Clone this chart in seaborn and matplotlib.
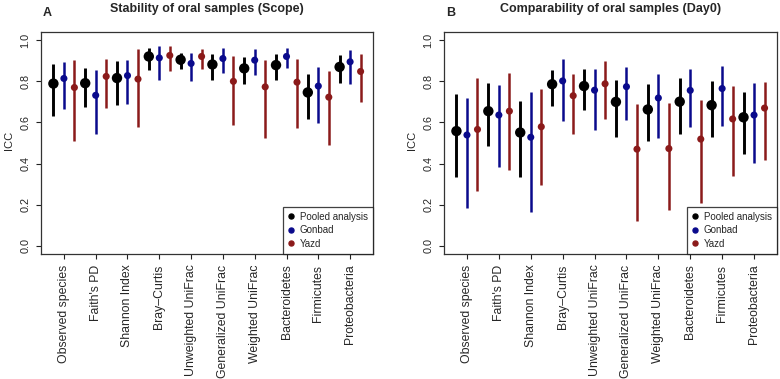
import matplotlib
matplotlib.use('Agg')

import numpy as np
import pandas as pd
import matplotlib.pyplot as plt
from matplotlib.lines import Line2D
import seaborn as sns

# ==============================================================================
# 資料 (由圖上讀取的估計值)
# ==============================================================================
metrics = ['Observed species', "Faith's PD", 'Shannon Index', 'Bray\u2013Curtis',
           'Unweighted UniFrac', 'Generalized UniFrac', 'Weighted UniFrac',
           'Bacteroidetes', 'Firmicutes', 'Proteobacteria']
cohorts = ['Pooled analysis', 'Gonbad', 'Yazd']

# Panel A: Stability of oral samples (Scope)
a_pooled = [0.789, 0.791, 0.816, 0.921, 0.905, 0.882, 0.863, 0.879, 0.746, 0.870]
a_pooled_lo = [0.633, 0.676, 0.683, 0.854, 0.858, 0.806, 0.788, 0.806, 0.615, 0.793]
a_pooled_hi = [0.885, 0.865, 0.900, 0.964, 0.938, 0.932, 0.919, 0.934, 0.834, 0.927]
a_gonbad = [0.814, 0.732, 0.828, 0.914, 0.887, 0.911, 0.903, 0.921, 0.777, 0.895]
a_gonbad_lo = [0.666, 0.543, 0.688, 0.805, 0.802, 0.840, 0.830, 0.863, 0.599, 0.788]
a_gonbad_hi = [0.892, 0.854, 0.903, 0.970, 0.939, 0.960, 0.955, 0.962, 0.869, 0.951]
a_yazd = [0.770, 0.824, 0.811, 0.926, 0.921, 0.800, 0.773, 0.796, 0.723, 0.848]
a_yazd_lo = [0.511, 0.668, 0.579, 0.848, 0.858, 0.587, 0.525, 0.572, 0.490, 0.700]
a_yazd_hi = [0.905, 0.911, 0.955, 0.974, 0.956, 0.922, 0.903, 0.911, 0.851, 0.934]

# Panel B: Comparability of oral samples (Day0)
b_pooled = [0.558, 0.655, 0.551, 0.786, 0.777, 0.700, 0.663, 0.701, 0.684, 0.625]
b_pooled_lo = [0.333, 0.483, 0.333, 0.680, 0.659, 0.527, 0.508, 0.543, 0.528, 0.447]
b_pooled_hi = [0.737, 0.793, 0.705, 0.856, 0.858, 0.808, 0.788, 0.814, 0.801, 0.748]
b_gonbad = [0.539, 0.636, 0.528, 0.802, 0.757, 0.774, 0.719, 0.756, 0.765, 0.636]
b_gonbad_lo = [0.183, 0.382, 0.165, 0.606, 0.561, 0.612, 0.523, 0.579, 0.581, 0.401]
b_gonbad_hi = [0.717, 0.782, 0.748, 0.908, 0.862, 0.871, 0.835, 0.862, 0.874, 0.790]
b_yazd = [0.566, 0.655, 0.579, 0.730, 0.788, 0.470, 0.473, 0.519, 0.617, 0.670]
b_yazd_lo = [0.267, 0.369, 0.296, 0.542, 0.615, 0.122, 0.175, 0.210, 0.340, 0.419]
b_yazd_hi = [0.817, 0.841, 0.765, 0.838, 0.899, 0.691, 0.696, 0.710, 0.777, 0.798]

panel_titles = ['Stability of oral samples (Scope)', 'Comparability of oral samples (Day0)']
panel_letters = ['A', 'B']


def build_frame(est, lo, hi):
    rows = []
    for cohort, e, l, h in zip(cohorts, est, lo, hi):
        for m, ev, lv, hv in zip(metrics, e, l, h):
            rows.append({'metric': m, 'cohort': cohort, 'icc': ev, 'lo': lv, 'hi': hv})
    return pd.DataFrame(rows)


panel_a = build_frame([a_pooled, a_gonbad, a_yazd],
                      [a_pooled_lo, a_gonbad_lo, a_yazd_lo],
                      [a_pooled_hi, a_gonbad_hi, a_yazd_hi])
panel_b = build_frame([b_pooled, b_gonbad, b_yazd],
                      [b_pooled_lo, b_gonbad_lo, b_yazd_lo],
                      [b_pooled_hi, b_gonbad_hi, b_yazd_hi])

# ==============================================================================
# 樣式設定
# ==============================================================================
sns.set_style('white')
plt.rcParams['font.family'] = ['Liberation Sans', 'DejaVu Sans']

palette = {'Pooled analysis': '#000000', 'Gonbad': '#0a0a8c', 'Yazd': '#8b1a1a'}
offsets = {'Pooled analysis': -0.33, 'Gonbad': 0.0, 'Yazd': 0.33}
point_sizes = {'Pooled analysis': 56, 'Gonbad': 26, 'Yazd': 26}
line_widths = {'Pooled analysis': 2.1, 'Gonbad': 1.8, 'Yazd': 1.8}

W, H = 780, 379
fig = plt.figure(figsize=(W / 100, H / 100), dpi=100)

axes_px = [(41, 373), (444, 777)]
top_px, bottom_px = 32, 254

for i, (df, (x0, x1)) in enumerate(zip([panel_a, panel_b], axes_px)):
    ax = fig.add_axes([x0 / W, 1 - bottom_px / H, (x1 - x0) / W, (bottom_px - top_px) / H])
    df = df.copy()
    df['xpos'] = df['metric'].map({m: k + 1 for k, m in enumerate(metrics)}) + df['cohort'].map(offsets)

    # 信賴區間
    for cohort in cohorts:
        sub = df[df['cohort'] == cohort]
        ax.vlines(sub['xpos'], sub['lo'], sub['hi'], colors=palette[cohort],
                  linewidth=line_widths[cohort], zorder=2)

    # 點估計
    sns.scatterplot(data=df, x='xpos', y='icc', hue='cohort', size='cohort',
                    palette=palette, sizes=point_sizes, hue_order=cohorts,
                    size_order=cohorts, linewidth=0, legend=False, ax=ax, zorder=3)

    ax.set_xlim(0.28, 10.72)
    ax.set_ylim(-0.04, 1.04)
    ax.set_xticks(np.arange(1, len(metrics) + 1))
    ax.set_xticklabels(metrics, rotation=90, ha='center', va='top', fontsize=8.8)
    ax.set_yticks([0, 0.2, 0.4, 0.6, 0.8, 1.0])
    ax.set_yticklabels(['0.0', '0.2', '0.4', '0.6', '0.8', '1.0'], rotation=90,
                       va='center', fontsize=7.8)
    ax.tick_params(axis='both', direction='out', length=3.6, width=0.8, pad=4,
                   color='#222222', left=True, bottom=True)
    ax.set_xlabel('')
    ax.set_ylabel('')
    for sp in ax.spines.values():
        sp.set_color('#333333')
        sp.set_linewidth(0.9)

    handles = [Line2D([0], [0], marker='o', linestyle='', color=palette[c],
                      markersize=3.6) for c in cohorts]
    leg = ax.legend(handles, cohorts, loc='lower right', borderaxespad=0,
                    fontsize=7, frameon=True, fancybox=False, handlelength=0.6,
                    handletextpad=0.6, labelspacing=0.35, borderpad=0.55)
    leg.get_frame().set_edgecolor('#111111')
    leg.get_frame().set_linewidth(0.9)

    cx = (x0 + x1) / 2 / W
    fig.text(cx, 1 - 9 / H, panel_titles[i], ha='center', va='center',
             fontsize=9, fontweight='bold')
    fig.text((x0 + 2) / W, 1 - 12.5 / H, panel_letters[i], ha='left', va='center',
             fontsize=9, fontweight='bold')
    fig.text((x0 - 32) / W, 1 - 140 / H, 'ICC', rotation=90, ha='center',
             va='center', fontsize=8)

fig.savefig('out.png', dpi=100)
